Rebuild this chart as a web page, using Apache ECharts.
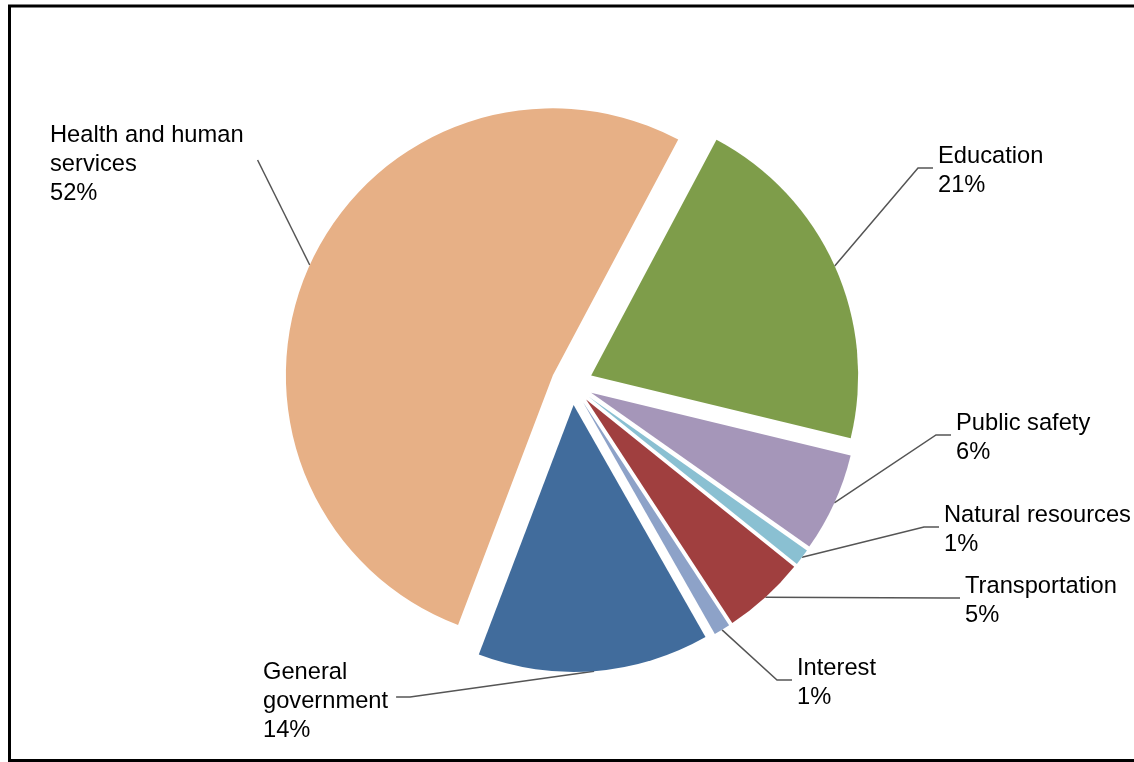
<!DOCTYPE html>
<html>
<head>
<meta charset="utf-8">
<script src="https://cdn.jsdelivr.net/npm/echarts@6/dist/echarts.min.js"></script>
<style>
  html, body { margin: 0; padding: 0; background: #fff; }
  #chart { width: 1134px; height: 762px; }
</style>
</head>
<body>
<div id="chart"></div>
<script>
// slices, clockwise from Education
const categories = ['Education', 'Public safety', 'Natural resources', 'Transportation', 'Interest', 'General\ngovernment', 'Health and human\nservices'];
const shares = [21, 6, 1, 5, 1, 14, 52];
const sliceColors = ['#7e9d4a', '#a596b9', '#8ac0d2', '#a03f3f', '#8da2c8', '#416c9c', '#e7b086'];

// label anchor (left x, middle y) and elbow length of the leader line
const labelSpots = [[938, 169], [956, 436], [944, 528], [965, 599], [797, 681], [263, 699], [50, 162]];
const elbowLen = [15, 15, 15, 15, 15, 14, 0];

const cx = 572, cy = 384, radius = 267, explode = 21;
const startDeg = 28; // clockwise from 12 o'clock

const chart = echarts.init(document.getElementById('chart'));
const total = shares.reduce((a, b) => a + b, 0);

let acc = 0;
const midAngles = shares.map(v => {
    const mid = startDeg + (acc + v / 2) / total * 360;
    acc += v;
    return mid * Math.PI / 180;
});

// one pie per slice so that every slice can be pulled out on its own
const series = categories.map((name, i) => {
    const a = midAngles[i];
    const ox = cx + explode * Math.sin(a);
    const oy = cy - explode * Math.cos(a);
    return {
        type: 'pie',
        silent: true,
        center: [ox, oy],
        radius: [0, radius],
        startAngle: 90 - startDeg,
        clockwise: true,
        avoidLabelOverlap: false,
        percentPrecision: 0,
        animation: false,
        label: {
            show: true,
            position: 'outer',
            formatter: '{b}\n{d}%',
            color: '#000',
            fontFamily: 'Liberation Sans, Arial, sans-serif',
            fontSize: 23.7,
            lineHeight: 29
        },
        labelLine: {
            show: true,
            lineStyle: { color: '#555', width: 1.5 }
        },
        labelLayout: (params) => {
            if (params.dataIndex !== i) return {};
            const [lx, ly] = labelSpots[i];
            const p0 = [ox + radius * Math.sin(a), oy - radius * Math.cos(a)];
            let end, bend;
            if (lx > cx) {
                end = [lx - 5, ly - 1];
                bend = [end[0] - elbowLen[i], end[1]];
            } else {
                const w = params.labelRect.width;
                const gap = elbowLen[i] ? 8 : 14;
                end = [lx + w + gap, ly - 2];
                bend = [end[0] + elbowLen[i], end[1]];
            }
            return {
                x: lx,
                y: ly + 2,
                align: 'left',
                verticalAlign: 'middle',
                labelLinePoints: [p0, bend, end]
            };
        },
        data: categories.map((n, j) => ({
            name: n,
            value: shares[j],
            itemStyle: { color: j === i ? sliceColors[j] : 'rgba(0,0,0,0)' },
            label: { show: j === i },
            labelLine: { show: j === i }
        }))
    };
});

chart.setOption({
    backgroundColor: '#fff',
    graphic: [{
        type: 'rect',
        shape: { x: 9.5, y: 6, width: 1200, height: 754.5 },
        style: { fill: 'none', stroke: '#000', lineWidth: 3 },
        silent: true
    }],
    series: series
});
</script>
</body>
</html>
